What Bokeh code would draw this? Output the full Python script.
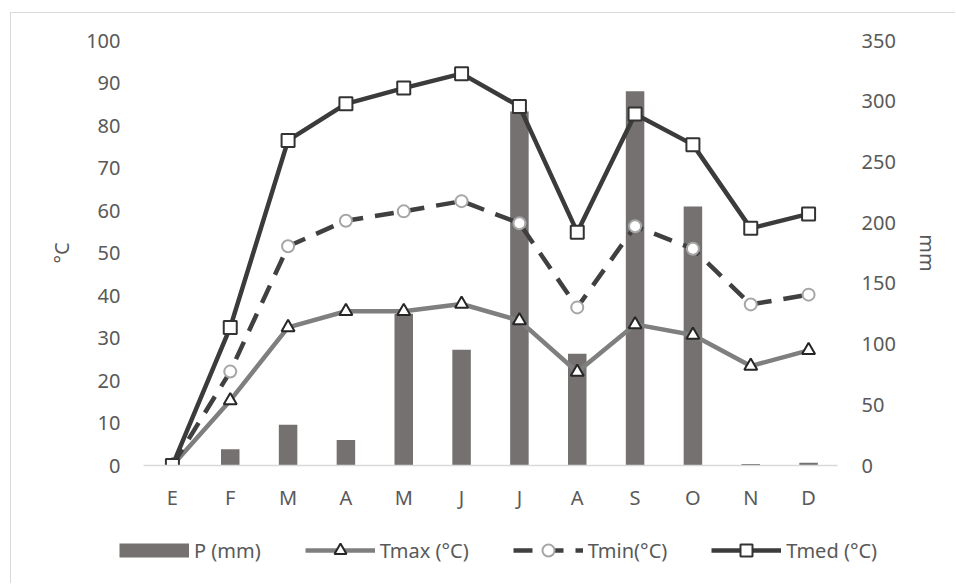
from bokeh.plotting import figure
from bokeh.layouts import column
from bokeh.models import Range1d, LinearAxis, Legend, LegendItem, FixedTicker
from bokeh.embed import file_html
from bokeh.resources import INLINE

months = ["E", "F", "M", "A", "M", "J", "J", "A", "S", "O", "N", "D"]
precip = [0, 13.4, 33.5, 21.1, 125, 95.3, 291.5, 92, 308.3, 213.3, 1.2, 2.2]
tmax = [0, 15.3, 32.5, 36.3, 36.3, 38.0, 34.1, 22.0, 33.2, 30.7, 23.4, 27.1]
tmin = [0, 22.1, 51.6, 57.6, 59.8, 62.2, 57.0, 37.2, 56.3, 51.0, 37.9, 40.2]
tmed = [0, 32.5, 76.5, 85.1, 88.8, 92.2, 84.5, 54.9, 82.7, 75.5, 55.8, 59.2]
left_ticks = list(range(0, 101, 10))
right_ticks = list(range(0, 351, 50))
series_labels = ["P (mm)", "Tmax (°C)", "Tmin(°C)", "Tmed (°C)"]

xs = list(range(len(months)))
FONT = "Noto Sans"
TXT = "#595959"
FS = "20px"
BAR_COLOR = "#767171"

BAR = dict(fill_color=BAR_COLOR, line_color=None)
MAXL = dict(line_color="#7f7f7f", line_width=4.5)
MAXM = dict(marker="triangle", size=13, fill_color="white", line_color="#262626", line_width=2)
MINL = dict(line_color="#404040", line_width=4.5, line_dash="19 12")
MINM = dict(marker="circle", size=12, fill_color="white", line_color="#a6a6a6", line_width=2)
MEDL = dict(line_color="#3b3b3b", line_width=4.5)
MEDM = dict(marker="square", size=13, fill_color="white", line_color="#333333", line_width=2)

p = figure(width=944, height=515, output_backend="svg", toolbar_location=None,
           x_range=Range1d(-0.5, 11.5), y_range=Range1d(0, 100),
           min_border_left=132, min_border_right=118, min_border_top=27, min_border_bottom=63)
p.outline_line_color = None
p.xgrid.visible = False
p.ygrid.visible = False
p.extra_y_ranges = {"mm": Range1d(0, 350)}


def style_axis(ax):
    ax.major_tick_line_color = None
    ax.minor_tick_line_color = None
    ax.major_tick_out = 0
    ax.major_tick_in = 0
    ax.minor_tick_out = 0
    ax.major_label_text_font = FONT
    ax.major_label_text_font_size = FS
    ax.major_label_text_color = TXT
    ax.axis_label_text_font = FONT
    ax.axis_label_text_font_size = FS
    ax.axis_label_text_font_style = "normal"
    ax.axis_label_text_color = TXT


xa = p.xaxis[0]
style_axis(xa)
xa.ticker = FixedTicker(ticks=xs)
xa.major_label_overrides = {i: m for i, m in enumerate(months)}
xa.axis_line_color = "#d9d9d9"
xa.axis_line_width = 1.5
xa.major_label_standoff = 18

ya = p.yaxis[0]
style_axis(ya)
ya.ticker = FixedTicker(ticks=left_ticks)
ya.axis_line_color = None
ya.major_label_standoff = 23
ya.axis_label = "°C"
ya.axis_label_standoff = 8

ra = LinearAxis(y_range_name="mm", ticker=FixedTicker(ticks=right_ticks))
style_axis(ra)
ra.axis_line_color = None
ra.major_label_standoff = 24
ra.axis_label = "mm"
ra.axis_label_standoff = 15
p.add_layout(ra, "right")

p.vbar(x=xs, top=precip, width=0.32, bottom=0, y_range_name="mm", **BAR)
p.line(xs, tmax, **MAXL)
p.scatter(xs, tmax, **MAXM)
p.line(xs, tmin, **MINL)
p.scatter(xs, tmin, **MINM)
p.line(xs, tmed, **MEDL)
p.scatter(xs, tmed, **MEDM)

# legend strip: a small axis-less figure so the legend is not clipped by the chart frame
q = figure(width=944, height=55, output_backend="svg", toolbar_location=None,
           x_axis_location=None, y_axis_location=None,
           x_range=Range1d(0, 1), y_range=Range1d(0, 1),
           min_border_left=0, min_border_right=0, min_border_top=0, min_border_bottom=0)
q.xgrid.visible = False
q.ygrid.visible = False
q.outline_line_color = None

unaligned = True
try:
    p.frame_align = False
    q.frame_align = False
except Exception:
    unaligned = False

off = [-5]  # proxy renderers kept outside the strip's visible range
rb = q.line(off, off, line_color=BAR_COLOR, line_width=14, line_cap="butt")
r1 = q.line(off, off, **MAXL)
r1m = q.scatter(off, off, **MAXM)
r2 = q.line(off, off, **MINL)
r2m = q.scatter(off, off, **MINM)
r3 = q.line(off, off, **MEDL)
r3m = q.scatter(off, off, **MEDM)

legend = Legend(items=[
    LegendItem(label=series_labels[0], renderers=[rb]),
    LegendItem(label=series_labels[1], renderers=[r1, r1m]),
    LegendItem(label=series_labels[2], renderers=[r2, r2m]),
    LegendItem(label=series_labels[3], renderers=[r3, r3m]),
], orientation="horizontal", location=(108, 18) if unaligned else (-27, 18))
legend.glyph_width = 70
legend.glyph_height = 30
legend.label_standoff = 5
legend.spacing = 44
legend.padding = 0
legend.margin = 0
legend.border_line_color = None
legend.background_fill_alpha = 0
legend.label_text_font = FONT
legend.label_text_font_size = FS
legend.label_text_color = TXT
q.add_layout(legend, "center")

layout = column(p, q, spacing=0)
layout.margin = (12, 0, 0, 10)
layout.styles = {"border-top": "1px solid #d9d9d9", "border-left": "1px solid #d9d9d9"}

open("out.html", "w").write(file_html(layout, INLINE))
